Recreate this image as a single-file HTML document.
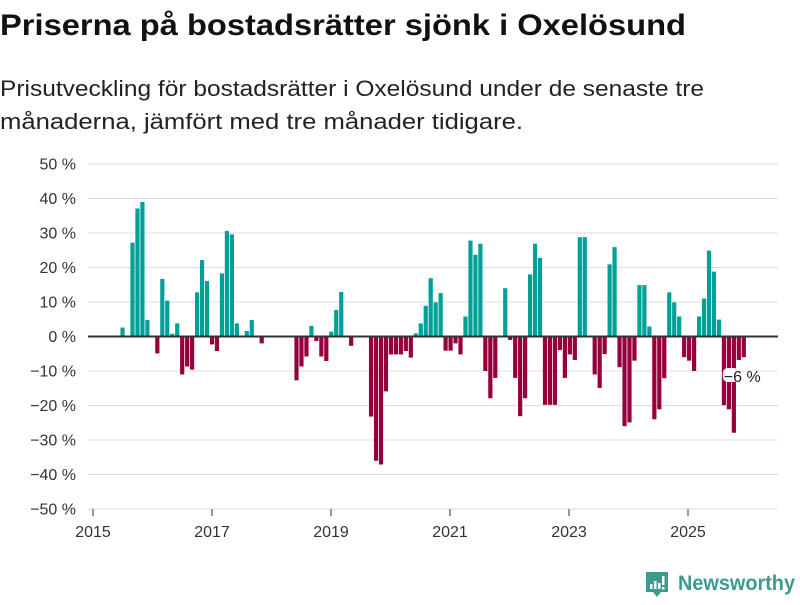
<!DOCTYPE html>
<html><head><meta charset="utf-8"><style>
body{margin:0;background:#fff;width:800px;height:600px;overflow:hidden;font-family:"Liberation Sans",sans-serif}
</style></head><body>
<svg id="chart" width="800" height="600" xmlns="http://www.w3.org/2000/svg" font-family="Liberation Sans, sans-serif">
<text x="0" y="35" font-size="30" font-weight="bold" fill="#111" textLength="686" lengthAdjust="spacingAndGlyphs">Priserna på bostadsrätter sjönk i Oxelösund</text>
<text font-size="22" fill="#222"><tspan x="0" y="96" textLength="704" lengthAdjust="spacingAndGlyphs">Prisutveckling för bostadsrätter i Oxelösund under de senaste tre</tspan><tspan x="0" y="129" textLength="523" lengthAdjust="spacingAndGlyphs">månaderna, jämfört med tre månader tidigare.</tspan></text>
<g id="grid"></g><g id="bars"></g><g id="axes"></g>
<g>
<path d="M646 572 h22 v20 h-7 l-4 5 l-4 -5 h-7 z" fill="#3a9b8e"/>
<rect x="650" y="584" width="2.5" height="5" fill="#fff"/><rect x="654" y="581" width="2.5" height="8" fill="#fff"/><rect x="658" y="583" width="2.5" height="6" fill="#fff"/><rect x="662" y="576" width="2.5" height="9" fill="#fff"/><rect x="662" y="587" width="2.5" height="2.5" fill="#fff"/>
<text x="678" y="590" font-size="21" fill="#3a9b8e" font-weight="bold" textLength="117" lengthAdjust="spacingAndGlyphs">Newsworthy</text>
</g>
</svg>
<script>
const yTicks=[50,40,30,20,10,0,-10,-20,-30,-40,-50];
const xTickYears=[2015,2017,2019,2021,2023,2025];
const startYear=2015;
const values=[null,null,null,null,null,2.6,null,27.2,37.1,39.0,4.8,null,-4.9,16.7,10.4,0.8,3.8,-11,-8.7,-9.6,12.8,22.2,16.1,-2.3,-4.2,18.3,30.6,29.6,3.8,null,1.6,4.8,null,-2,null,null,null,null,null,null,-12.7,-8.7,-5.8,3.1,-1.3,-5.8,-7.1,1.4,7.7,12.9,null,-2.7,null,null,null,-23.2,-36,-37.1,-15.9,-5.2,-5.2,-5.2,-4.2,-6.1,0.9,3.8,8.9,16.9,9.9,12.6,-4.1,-4.1,-2,-5.2,5.8,27.8,23.7,26.9,-10,-17.9,-12,null,14,-1,-12,-23.1,-17.9,18,26.9,22.8,-19.8,-19.8,-19.8,-3.9,-12,-5.2,-6.8,28.8,28.8,null,-11,-14.9,-5.1,20.9,25.9,-8.9,-26,-24.9,-7,14.9,14.9,2.9,-24,-21.1,-12.1,12.8,9.9,5.8,-6,-7,-10,5.8,11,24.9,18.8,4.9,-19.9,-21.1,-27.9,-6.8,-6];
const lastLabel="−6 %";
const NS="http://www.w3.org/2000/svg";
function y(v){return 336.5-v*3.45;}
function x(yr){return 93+(yr-2015)*59.5;}
function bx(i){return 97.7+i*4.97;}
function mk(t,a,p){const e=document.createElementNS(NS,t);for(const k in a)e.setAttribute(k,a[k]);p.appendChild(e);return e;}
const grid=document.getElementById('grid'),bars=document.getElementById('bars'),axes=document.getElementById('axes');
yTicks.forEach(v=>{
 if(v!==0){const l=mk('line',{x1:88,x2:778,y1:y(v),y2:y(v),stroke:'#ddd','stroke-width':1},grid);
 
 }
 const t=mk('text',{x:76,y:y(v)+5.5,'text-anchor':'end','font-size':16,fill:'#333'},axes);t.textContent=(v<0?'−'+(-v):v)+' %';
 
 
});
values.forEach((v,i)=>{
 if(v===null)return;
 const cx=bx(i);
 const r=mk('rect',{x:cx-2.1,width:4.2,y:Math.min(y(v),y(0)),height:Math.abs(y(v)-y(0)),fill:v>=0?'#00a198':'#96003c'},bars);
 
 
});
const z=mk('line',{x1:88,x2:778,y1:y(0),y2:y(0),stroke:'#333','stroke-width':2},axes);


xTickYears.forEach(yr=>{
 mk('line',{x1:x(yr),x2:x(yr),y1:509,y2:516,stroke:'#333','stroke-width':1},axes);
 const t=mk('text',{x:x(yr),y:537,'text-anchor':'middle','font-size':16,fill:'#333'},axes);t.textContent=yr;
 
 
});
const li=values.length-1;
const lx=bx(li);
mk('rect',{x:lx-21,y:368,width:16,height:14,rx:5,fill:'#fff'},axes);
const lt=mk('text',{x:lx-20,y:382,'font-size':16,fill:'#222'},axes);lt.textContent=lastLabel;


</script>
</body></html>
